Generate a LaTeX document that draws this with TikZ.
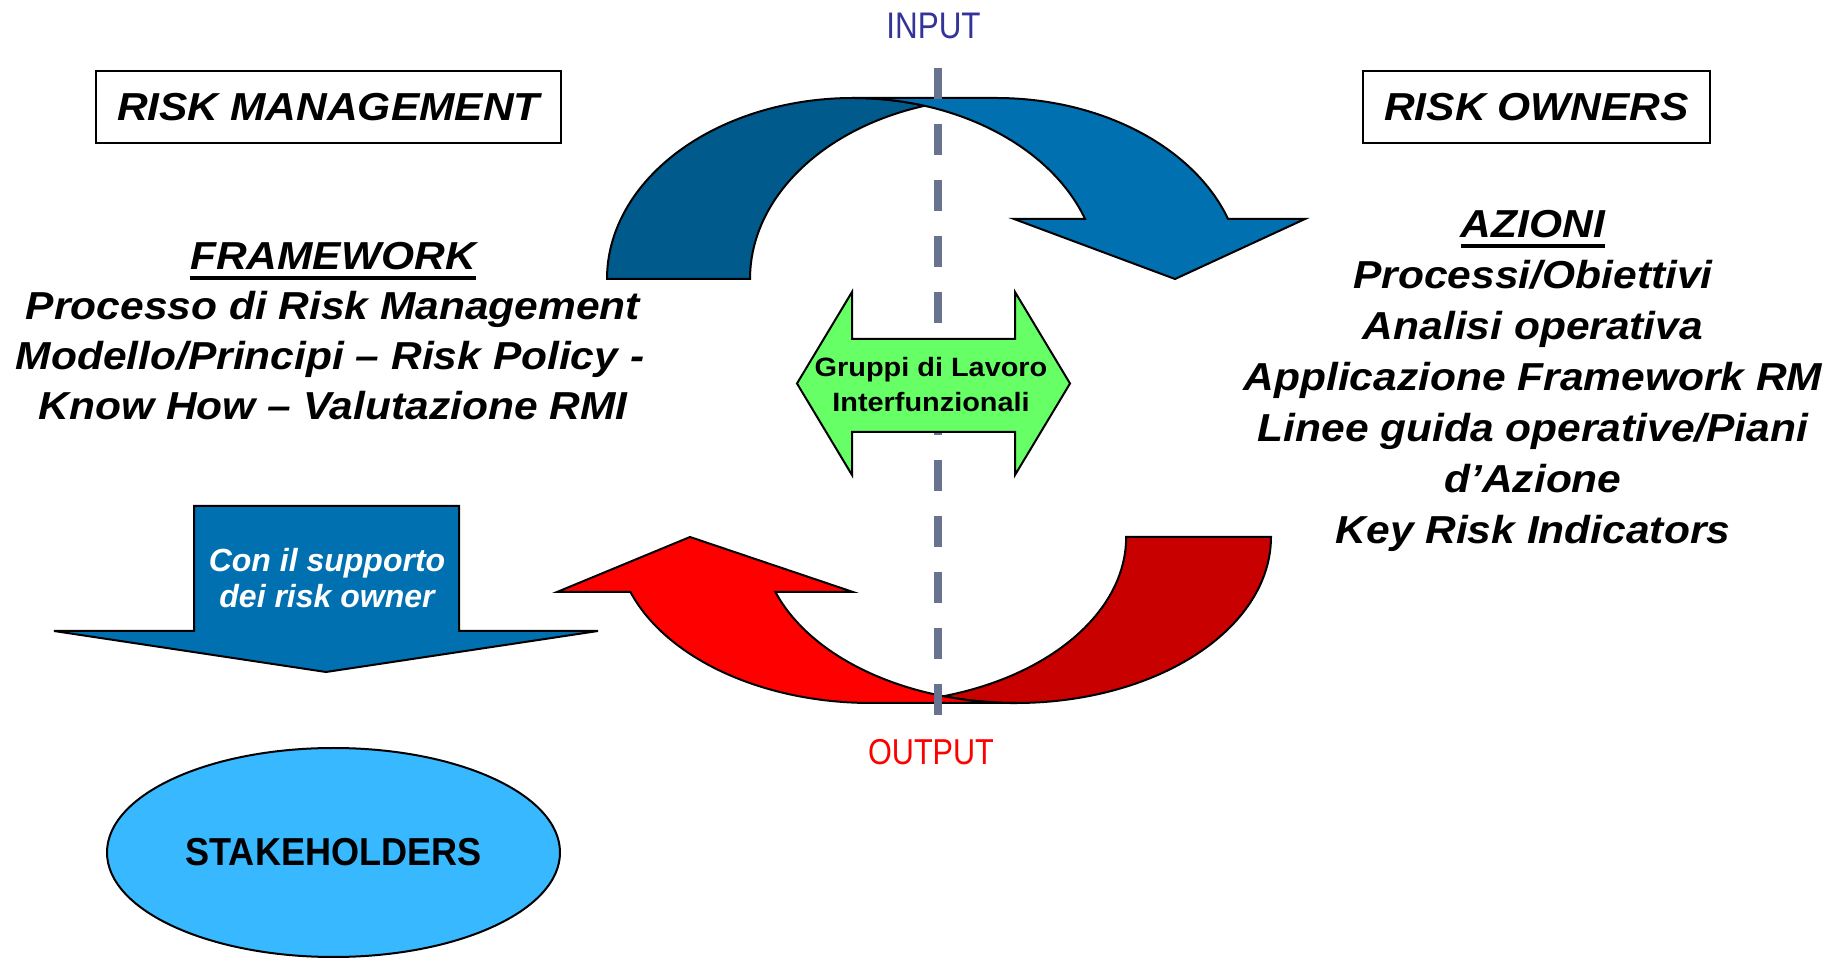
\documentclass[tikz,border=0pt]{standalone}
\usepackage{fontspec}
\setmainfont{Liberation Sans}
\newfontfamily\testofont[FakeStretch=1.09]{Liberation Sans}
\newfontfamily\strettofont[FakeStretch=0.85]{Liberation Sans}
\newfontfamily\stakefont[FakeStretch=0.925]{Liberation Sans}
\usetikzlibrary{shapes.geometric}

\definecolor{bluscuro}{RGB}{0,90,140}
\definecolor{blu}{RGB}{0,112,176}
\definecolor{azzurro}{RGB}{56,184,255}
\definecolor{verde}{RGB}{102,255,102}
\definecolor{rossoscuro}{RGB}{200,0,0}
\definecolor{rosso}{RGB}{255,0,0}
\definecolor{grigioblu}{RGB}{104,114,145}
\definecolor{indaco}{RGB}{51,51,153}

\tikzset{
  testo/.style={font=\testofont\bfseries\itshape\fontsize{39}{50}\selectfont, inner sep=0pt, anchor=base},
  titolo/.style={draw, line width=2pt, minimum height=72pt, inner sep=0pt,
    font=\testofont\bfseries\itshape\fontsize{39}{39}\selectfont},
  freccia/.style={draw=black, line width=2pt, line join=miter},
  sottolinea/.style={line width=3.5pt},
}

\begin{document}
\begin{tikzpicture}[x=1pt,y=1pt]
        \useasboundingbox (0,0) rectangle (1841,958);

        % Titoli nei riquadri
        \node[titolo, minimum width=465pt] (rm) at (328.5,851) {RISK MANAGEMENT};
        \node[titolo, minimum width=347pt] (ro) at (1536.5,851) {RISK OWNERS};

        % Freccia blu in alto (parte dietro, poi parte davanti)
        \draw[freccia, fill=bluscuro] (607,679)
            arc[start angle=180, end angle=73.1, x radius=246, y radius=181]
            arc[start angle=106.9, end angle=180, x radius=246, y radius=181] -- cycle;
        \draw[freccia, fill=blu] (853,860) -- (996,860)
            arc[start angle=90, end angle=19.36, x radius=246, y radius=181]
            -- (1305,739) -- (1175,679) -- (1014,739) -- (1085.1,739)
            arc[start angle=19.36, end angle=90, x radius=246, y radius=181] -- cycle;

        % Freccia rossa in basso
        \draw[freccia, fill=rossoscuro] (1271,421)
            arc[start angle=0, end angle=-106.5, x radius=255, y radius=166]
            arc[start angle=-73.5, end angle=0, x radius=255, y radius=166] -- cycle;
        \draw[freccia, fill=rosso] (1016,255) -- (871,255)
            arc[start angle=-90, end angle=-160.67, x radius=255, y radius=166]
            -- (557,366) -- (690,421) -- (853,366) -- (775.4,366)
            arc[start angle=-160.67, end angle=-90, x radius=255, y radius=166] -- cycle;

        % Asse tratteggiato INPUT - OUTPUT
        \coordinate (asse-alto) at (938,890);
        \coordinate (asse-basso) at (938,242);
        \draw[grigioblu, line width=8pt, dash pattern=on 31pt off 25pt] (asse-alto) -- (asse-basso);
        \node[font=\strettofont\fontsize{37}{37}\selectfont, text=indaco, inner sep=0pt, anchor=base] (input) at (933.5,919) {INPUT};
        \node[font=\strettofont\fontsize{36}{36}\selectfont, text=rosso, inner sep=0pt, anchor=base] (output) at (931,193) {OUTPUT};

        % Doppia freccia verde
        \draw[freccia, fill=verde] (797,574.5) -- (852,666) -- (852,619) -- (1015,619) -- (1015,666)
            -- (1070,574.5) -- (1015,483) -- (1015,526) -- (852,526) -- (852,483) -- cycle;
        \node[font=\testofont\bfseries\fontsize{26.5}{35}\selectfont, inner sep=0pt, anchor=base] (gruppi1) at (931,581) {Gruppi di Lavoro};
        \node[font=\testofont\bfseries\fontsize{26.5}{35}\selectfont, inner sep=0pt, anchor=base] (gruppi2) at (931,546) {Interfunzionali};

        % Testo a sinistra
        \node[testo] (framework) at (333,688) {FRAMEWORK};
        \draw[sottolinea] ([yshift=-8pt]framework.base west) -- ([yshift=-8pt]framework.base east);
        \node[testo] (fw1) at (333,638) {Processo di Risk Management};
        \node[testo] (fw2) at (330,588) {Modello/Principi – Risk Policy -};
        \node[testo] (fw3) at (333,538) {Know How – Valutazione RMI};

        % Testo a destra
        \node[testo] (azioni) at (1533,720) {AZIONI};
        \draw[sottolinea] ([yshift=-8pt]azioni.base west) -- ([yshift=-8pt]azioni.base east);
        \node[testo] (az1) at (1533,669) {Processi/Obiettivi};
        \node[testo] (az2) at (1533,618) {Analisi operativa};
        \node[testo] (az3) at (1533,567) {Applicazione Framework RM};
        \node[testo] (az4) at (1533,516) {Linee guida operative/Piani};
        \node[testo] (az5) at (1533,465) {d’Azione};
        \node[testo] (az6) at (1533,414) {Key Risk Indicators};

        % Freccia blu verso il basso
        \draw[freccia, fill=blu] (194,452) -- (459,452) -- (459,327) -- (598,327)
            -- (326,286) -- (54,327) -- (194,327) -- cycle;
        \node[font=\bfseries\itshape\fontsize{32}{36}\selectfont, text=white, inner sep=0pt, anchor=base] (supporto1) at (327,386) {Con il supporto};
        \node[font=\bfseries\itshape\fontsize{32}{36}\selectfont, text=white, inner sep=0pt, anchor=base] (supporto2) at (327,350) {dei risk owner};

        % Ellisse STAKEHOLDERS
        \node[ellipse, draw, line width=2pt, fill=azzurro, minimum width=453pt, minimum height=209pt, inner sep=0pt,
            font=\stakefont\bfseries\fontsize{39}{39}\selectfont] (stakeholders) at (333.5,105.5) {STAKEHOLDERS};
\end{tikzpicture}
\end{document}
